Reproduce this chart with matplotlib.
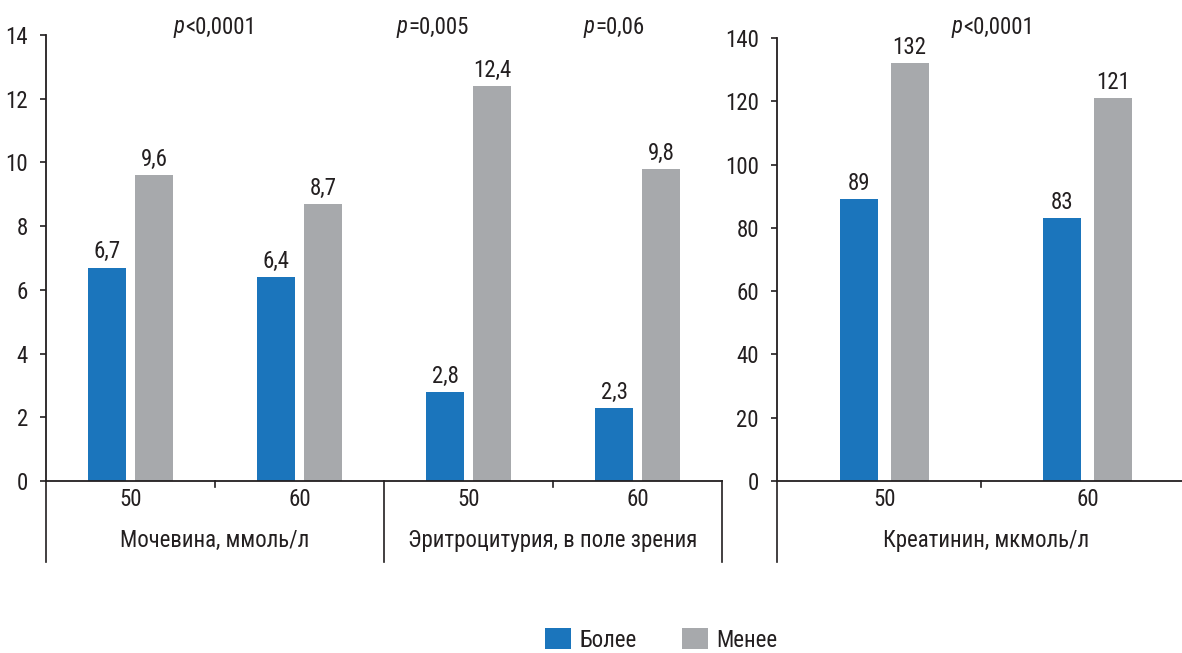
import matplotlib
matplotlib.use("Agg")
import matplotlib.pyplot as plt
from matplotlib.patches import Patch
from matplotlib.transforms import blended_transform_factory
from matplotlib.lines import Line2D

FONT = ["Liberation Sans Narrow", "Roboto Condensed", "Roboto", "DejaVu Sans"]
plt.rcParams["font.family"] = FONT

BLUE = "#1b75bc"
GRAY = "#a7a9ac"
INK = "#231f20"
FS = 16.5

# Left panel: urea and erythrocyturia
left_ticks = ["50", "60", "50", "60"]
left_more = [6.7, 6.4, 2.8, 2.3]
left_less = [9.6, 8.7, 12.4, 9.8]
left_more_lbl = ["6,7", "6,4", "2,8", "2,3"]
left_less_lbl = ["9,6", "8,7", "12,4", "9,8"]
left_groups = ["Мочевина, ммоль/л", "Эритроцитурия, в поле зрения"]
left_pvals = ["<0,0001", "=0,005", "=0,06"]

# Right panel: creatinine
right_ticks = ["50", "60"]
right_more = [89, 83]
right_less = [132, 121]
right_groups = ["Креатинин, мкмоль/л"]
right_pvals = ["<0,0001"]

legend_labels = ["Более", "Менее"]

W, H = 1182, 653
fig = plt.figure(figsize=(W / 100, H / 100), dpi=100)


def px_axes(x0, x1, ytop, ybot):
    return fig.add_axes([x0 / W, 1 - ybot / H, (x1 - x0) / W, (ybot - ytop) / H])


axL = px_axes(46, 722, 35, 481)
axR = px_axes(777, 1184, 38, 481)

drop_px = 81  # how far the group separators extend below the baseline


def style_axis(ax, ymax, ystep, xlim):
    for s in ("top", "right"):
        ax.spines[s].set_visible(False)
    for s in ("left", "bottom"):
        ax.spines[s].set_color(INK)
        ax.spines[s].set_linewidth(1.3)
    ax.set_ylim(0, ymax)
    ax.set_yticks(range(0, ymax + 1, ystep))
    ax.tick_params(axis="y", direction="out", length=4, width=1.2, color=INK,
                   pad=9, labelsize=FS, labelcolor=INK)
    ax.set_xlim(*xlim)
    ax.set_xticks([])


def bars(ax, more, less, more_lbl, less_lbl, width, off):
    xs = list(range(len(more)))
    b1 = ax.bar([x - off for x in xs], more, width, color=BLUE, zorder=2)
    b2 = ax.bar([x + off for x in xs], less, width, color=GRAY, zorder=2)
    for group, labels in ((b1, more_lbl), (b2, less_lbl)):
        for rect, lbl in zip(group, labels):
            ax.annotate(lbl, (rect.get_x() + rect.get_width() / 2, rect.get_height()),
                        xytext=(0, 3), textcoords="offset points", ha="center",
                        va="bottom", fontsize=FS, color=INK)


def xaxis_decor(ax, ticks, groups, group_x, long_x, short_x, ax_h_px):
    tr = blended_transform_factory(ax.transData, ax.transAxes)
    drop = drop_px / ax_h_px
    for x in long_x:
        ax.add_line(Line2D([x, x], [0, -drop], transform=tr, color=INK,
                           lw=1.2, clip_on=False))
    for x in short_x:
        ax.add_line(Line2D([x, x], [0, -6 / ax_h_px], transform=tr, color=INK,
                           lw=1.2, clip_on=False))
    for i, t in enumerate(ticks):
        ax.text(i, -19 / ax_h_px, t, transform=tr, ha="center", va="center",
                fontsize=FS, color=INK)
    for gx, name in zip(group_x, groups):
        ax.text(gx, -59 / ax_h_px, name, transform=tr, ha="center",
                va="center", fontsize=FS, color=INK)


style_axis(axL, 14, 2, (-0.5, 3.5))
bars(axL, left_more, left_less, left_more_lbl, left_less_lbl, 0.225, 0.139)
xaxis_decor(axL, left_ticks, left_groups, [0.5, 2.5], [-0.5, 1.5, 3.5],
            [0.5, 2.5], 446)

style_axis(axR, 140, 20, (-0.527, 1.473))
bars(axR, right_more, right_less, [str(v) for v in right_more],
     [str(v) for v in right_less], 0.187, 0.125)
xaxis_decor(axR, right_ticks, right_groups, [0.5], [-0.527], [0.473], 443)


def pvalue(x_px, text):
    # italic "p" followed by the upright comparison
    y = 1 - 27 / H
    fig.text((x_px + 10) / W, y, "p", ha="right", va="center", fontsize=FS,
             style="italic", color=INK)
    fig.text((x_px + 10) / W, y, text, ha="left", va="center", fontsize=FS,
             color=INK)


for x_px, p in zip([175, 398, 585], left_pvals):
    pvalue(x_px, p)
for x_px, p in zip([953], right_pvals):
    pvalue(x_px, p)

handles = [Patch(facecolor=BLUE, edgecolor="none"),
           Patch(facecolor=GRAY, edgecolor="none")]
fig.legend(handles, legend_labels, loc="center", ncol=2, frameon=False,
           bbox_to_anchor=(661 / W, 1 - 640 / H), fontsize=FS,
           handlelength=1.15, handleheight=1.0, handletextpad=0.35,
           columnspacing=2.0, labelcolor=INK)

fig.savefig("out.png", dpi=100)
